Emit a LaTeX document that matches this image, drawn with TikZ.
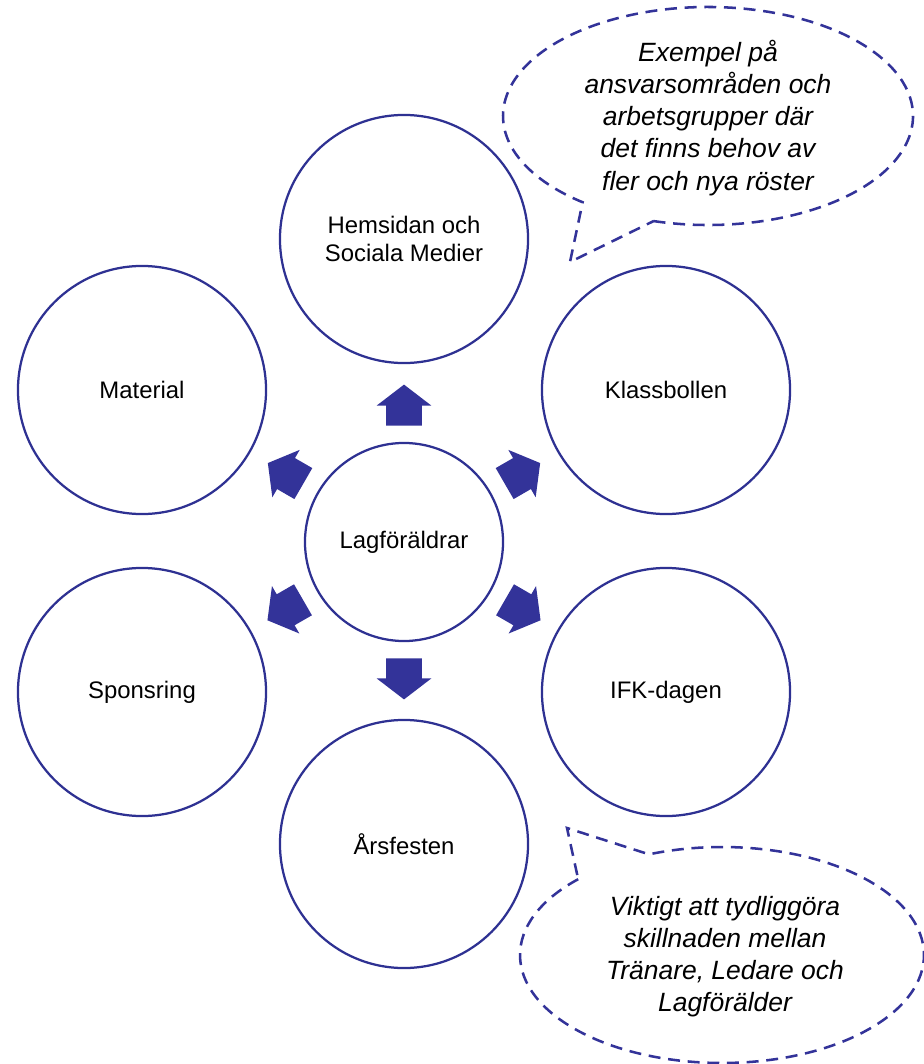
\documentclass[tikz,border=0pt]{standalone}
\usepackage{fontspec}
\setmainfont{Liberation Sans}
\usetikzlibrary{shapes,arrows,calc}
\definecolor{ringblue}{RGB}{46,49,146}
\definecolor{arrowblue}{RGB}{51,51,153}

\begin{document}
\begin{tikzpicture}[x=0.025cm,y=0.025cm,
    ring/.style={circle,draw=ringblue,line width=1.6pt,minimum size=6.2cm,align=center,
      font=\fontsize{17}{19.5}\selectfont},
    hub/.style={ring,minimum size=4.95cm},
    blockarrow/.style={single arrow,fill=arrowblue,inner xsep=0pt,inner ysep=0.44cm,
      minimum height=1.025cm,single arrow head extend=0.2375cm,single arrow tip angle=105},
    bubble/.style={draw=arrowblue,line width=1.8pt,dash pattern=on 8.5pt off 5.5pt},
    bubbletext/.style={align=center,font=\fontsize{18.8}{22.8}\selectfont\itshape}]
        \useasboundingbox (0,0) rectangle (924,-1064);
        % Centre
        \node[hub] (lag) at (404,-542) {Lagföräldrar};

        % Outer circles
        \node[ring] (hem) at (404,-239) {Hemsidan och\\Sociala Medier};
        \node[ring] (kla) at (666,-390) {Klassbollen};
        \node[ring] (mat) at (142,-390) {Material};
        \node[ring] (spo) at (142,-692) {Sponsring};
        \node[ring] (ifk) at (666,-692) {IFK-dagen};
        \node[ring] (ars) at (404,-844) {Årsfesten};

        % Block arrows
        \foreach \n/\a in {hem/90,kla/30,mat/150,spo/-150,ifk/-30,ars/-90}
          \node[blockarrow,rotate=\a] (arr-\n) at ($(lag)!3.25cm!(\n)$) {};

        % Top callout
        \coordinate (tc) at (708,-116);
        \coordinate (ttip) at (570,-262);
        \draw[bubble] ($(tc)+(254.6:205 and 109)$)
          arc[start angle=254.6,end angle=592.3,x radius=205,y radius=109] -- (ttip) -- cycle;
        \node[bubbletext] (tnote) at (708,-118) {Exempel på\\ansvarsområden och\\arbetsgrupper där\\det finns behov av\\fler och nya röster};

        % Bottom callout
        \coordinate (bc) at (722,-955);
        \coordinate (btip) at (567,-828);
        \draw[bubble] ($(bc)+(135.4:202 and 108)$)
          arc[start angle=135.4,end angle=471.2,x radius=202,y radius=108] -- (btip) -- cycle;
        \node[bubbletext] (bnote) at (725,-957) {Viktigt att tydliggöra\\skillnaden mellan\\Tränare, Ledare och\\Lagförälder};
\end{tikzpicture}
\end{document}
